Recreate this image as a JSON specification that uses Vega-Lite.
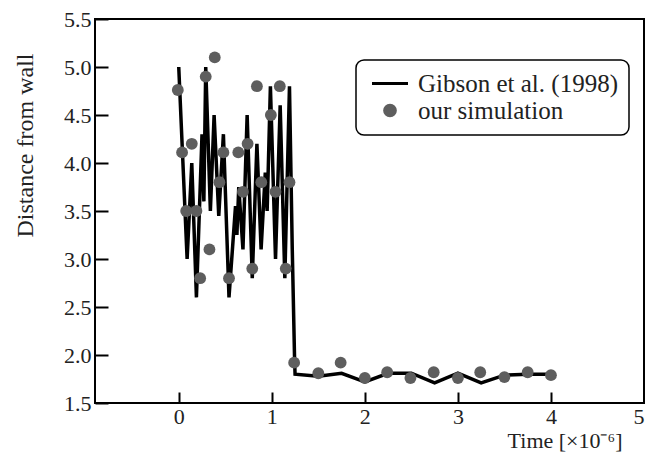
{
  "$schema": "https://vega.github.io/schema/vega-lite/v6.json",
  "width": 549,
  "height": 384,
  "autosize": {"type": "none"},
  "padding": {"left": 95, "top": 19, "right": 1, "bottom": 49},
  "background": "white",
  "config": {
    "view": {"stroke": "black", "strokeWidth": 2},
    "font": "Liberation Serif",
    "axis": {"labelFont": "Liberation Serif", "titleFont": "Liberation Serif"},
    "legend": {"labelFont": "Liberation Serif", "titleFont": "Liberation Serif"}
  },
  "datasets": {
    "gibson": [
      {"t": 0.00, "v": 5.00}, {"t": 0.09, "v": 3.00}, {"t": 0.14, "v": 4.00},
      {"t": 0.19, "v": 2.60}, {"t": 0.25, "v": 4.30}, {"t": 0.27, "v": 3.60},
      {"t": 0.29, "v": 5.00}, {"t": 0.34, "v": 3.50}, {"t": 0.38, "v": 4.50},
      {"t": 0.43, "v": 3.45}, {"t": 0.48, "v": 4.30}, {"t": 0.54, "v": 2.60},
      {"t": 0.61, "v": 3.55}, {"t": 0.625, "v": 3.25}, {"t": 0.645, "v": 3.75},
      {"t": 0.69, "v": 3.10}, {"t": 0.735, "v": 4.50}, {"t": 0.79, "v": 2.80},
      {"t": 0.84, "v": 4.20}, {"t": 0.885, "v": 3.10}, {"t": 0.93, "v": 3.90},
      {"t": 0.95, "v": 3.50}, {"t": 0.985, "v": 4.80}, {"t": 1.04, "v": 3.00},
      {"t": 1.09, "v": 4.60}, {"t": 1.14, "v": 2.80}, {"t": 1.19, "v": 4.80},
      {"t": 1.22, "v": 3.10}, {"t": 1.245, "v": 1.95}, {"t": 1.25, "v": 1.80},
      {"t": 1.50, "v": 1.78}, {"t": 1.75, "v": 1.81}, {"t": 2.00, "v": 1.72},
      {"t": 2.25, "v": 1.81}, {"t": 2.50, "v": 1.81}, {"t": 2.75, "v": 1.71},
      {"t": 3.00, "v": 1.81}, {"t": 3.25, "v": 1.71}, {"t": 3.50, "v": 1.79},
      {"t": 3.75, "v": 1.80}, {"t": 4.00, "v": 1.80}
    ],
    "sim": [
      {"t": -0.01, "v": 4.76}, {"t": 0.036, "v": 4.11}, {"t": 0.08, "v": 3.50},
      {"t": 0.14, "v": 4.20}, {"t": 0.19, "v": 3.50}, {"t": 0.23, "v": 2.80},
      {"t": 0.29, "v": 4.90}, {"t": 0.33, "v": 3.10}, {"t": 0.387, "v": 5.10},
      {"t": 0.437, "v": 3.80}, {"t": 0.48, "v": 4.11}, {"t": 0.54, "v": 2.80},
      {"t": 0.64, "v": 4.11}, {"t": 0.69, "v": 3.70}, {"t": 0.74, "v": 4.20},
      {"t": 0.79, "v": 2.90}, {"t": 0.84, "v": 4.80}, {"t": 0.887, "v": 3.80},
      {"t": 0.99, "v": 4.50}, {"t": 1.04, "v": 3.70}, {"t": 1.086, "v": 4.80},
      {"t": 1.15, "v": 2.90}, {"t": 1.19, "v": 3.80}, {"t": 1.24, "v": 1.92},
      {"t": 1.50, "v": 1.81}, {"t": 1.74, "v": 1.92}, {"t": 2.00, "v": 1.76},
      {"t": 2.24, "v": 1.82}, {"t": 2.49, "v": 1.76}, {"t": 2.74, "v": 1.82},
      {"t": 3.00, "v": 1.76}, {"t": 3.24, "v": 1.82}, {"t": 3.50, "v": 1.77},
      {"t": 3.75, "v": 1.82}, {"t": 4.00, "v": 1.79}
    ]
  },
  "encoding": {
    "x": {
      "field": "t", "type": "quantitative",
      "scale": {"domain": [-0.9, 5], "nice": false, "zero": false},
      "axis": {
        "values": [0, 1, 2, 3, 4, 5], "format": "d", "grid": false, "domain": false,
        "tickSize": -11, "tickWidth": 2, "tickColor": "black",
        "labelPadding": 14, "labelFontSize": 22,
        "labelColor": "#222", "labelFontWeight": "normal",
        "title": "Time  [×10⁻⁶]", "titleFontSize": 22,
        "titleFontWeight": "normal", "titleColor": "#222",
        "titleX": 527, "titleY": 44, "titleAlign": "right", "titleBaseline": "alphabetic"
      }
    },
    "y": {
      "field": "v", "type": "quantitative",
      "scale": {"domain": [1.5, 5.5], "nice": false, "zero": false},
      "axis": {
        "values": [1.5, 2.0, 2.5, 3.0, 3.5, 4.0, 4.5, 5.0, 5.5], "format": ".1f",
        "grid": false, "domain": false,
        "tickSize": -13, "tickWidth": 2, "tickColor": "black",
        "labelPadding": 17, "labelFontSize": 22,
        "labelColor": "#222",
        "title": "Distance from wall", "titleFontSize": 24,
        "titleFontWeight": "normal", "titleColor": "#222",
        "titleX": -70, "titleY": 126, "titleAngle": 270, "titleAlign": "center", "titleBaseline": "middle",
        "encode": {
          "labels": {
            "update": {
              "dy": {"signal": "datum.value >= 5.49 ? 4 : (datum.value <= 1.51 ? -5 : -3)"}
            }
          }
        }
      }
    }
  },
  "layer": [
    {
      "data": {"name": "gibson"},
      "mark": {"type": "line", "stroke": "black", "strokeWidth": 3.5, "clip": true},
      "encoding": {
        "color": {
          "datum": "Gibson et al. (1998)",
          "scale": {"domain": ["Gibson et al. (1998)", "our simulation"], "range": ["black", "#5e5e5e"]},
          "legend": {
            "orient": "none", "legendX": 261, "legendY": 41, "title": null,
            "fillColor": "white", "strokeColor": "black", "cornerRadius": 8,
            "padding": 11, "rowPadding": 1, "labelOffset": 15.5, "symbolOffset": 10.5,
            "symbolSize": 324, "symbolType": "stroke", "symbolStrokeWidth": 3,
            "labelFontSize": 25, "labelColor": "#222", "labelLimit": 400,
            "encode": {
              "legend": {"update": {"strokeWidth": {"value": 1.5}}},
              "symbols": {
                "update": {
                  "shape": {"signal": "datum.value === 'our simulation' ? 'circle' : 'M-2,0H2'"},
                  "size": {"signal": "datum.value === 'our simulation' ? 115 : 324"},
                  "fill": {"signal": "datum.value === 'our simulation' ? '#5e5e5e' : 'transparent'"},
                  "stroke": {"signal": "datum.value === 'our simulation' ? 'transparent' : 'black'"},
                  "strokeWidth": {"value": 3},
                  "opacity": {"value": 1}
                }
              }
            }
          }
        }
      }
    },
    {
      "data": {"name": "sim"},
      "mark": {"type": "point", "filled": true, "size": 140, "opacity": 1, "clip": true},
      "encoding": {
        "color": {"datum": "our simulation"}
      }
    }
  ]
}
